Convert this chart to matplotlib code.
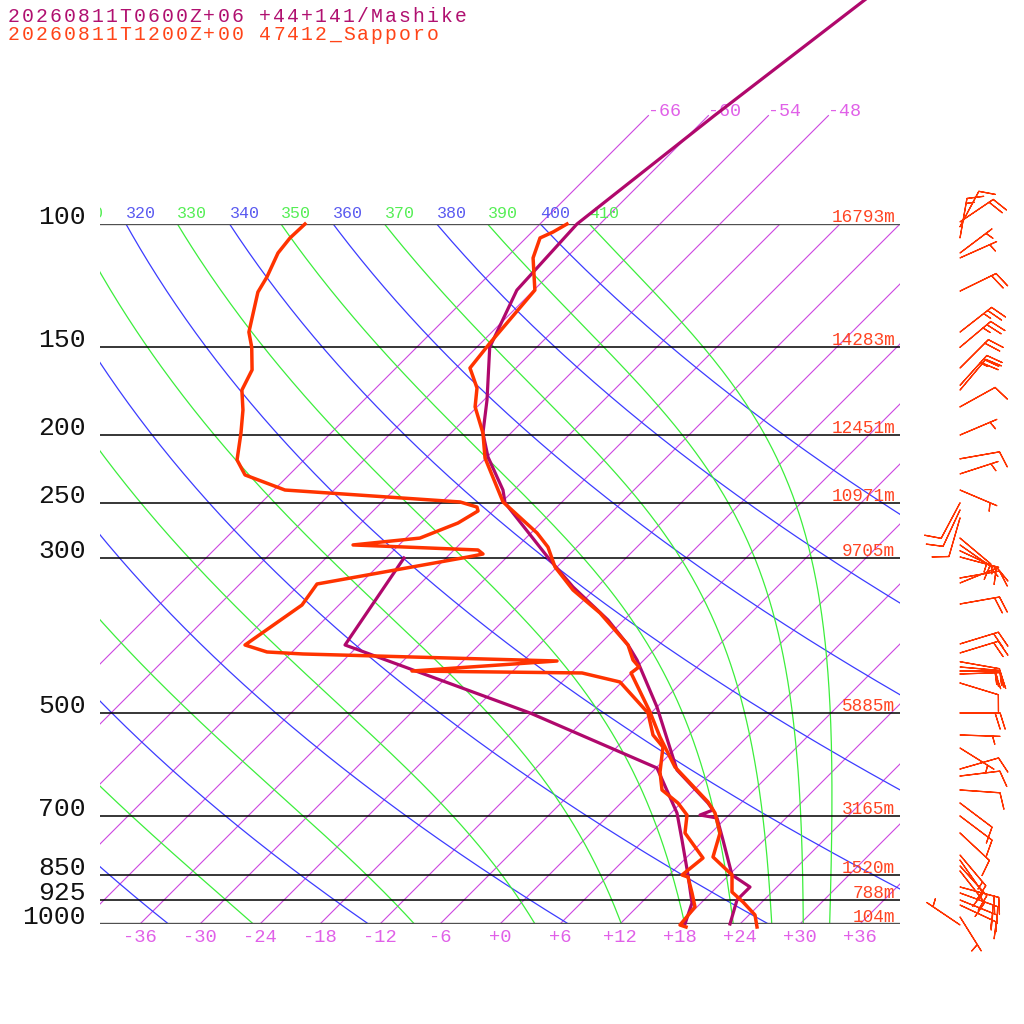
import numpy as np
import matplotlib
matplotlib.use('Agg')
import matplotlib.pyplot as plt
from matplotlib import transforms
from matplotlib.transforms import Bbox

# --- Mashike (model profile) ---
mashike_p = [40, 70, 100, 124.3, 150, 178.4, 198.9, 215.2, 239.9, 250.3, 302, 330,
             367.9, 399.4, 419.6, 489.8, 602.6, 671.7, 687.3, 698.7, 705.6, 758.6,
             851.1, 885.4, 924.1, 1000]
mashike_t = [-54.3, -59.4, -62.3, -61.7, -58.7, -53.7, -50.8, -47.9, -43.1, -41.6, -31.4, -26.4,
             -19.6, -15.1, -12.7, -6.0, 2.3, 8.7, 9.9, 9.1, 11.1, 13.9,
             18.3, 21.3, 21.3, 23.0]
mashike_td_p = [300, 399.4, 499.5, 598.6, 694.1, 758.6, 851.1, 933.3, 1000]
mashike_td = [-46.2, -43.4, -18.1, 0.1, 6.6, 9.8, 13.9, 17.1, 18.5]

# --- Sapporo 47412 (radiosonde) ---
sapporo_p = [100, 102.7, 104.7, 111.8, 124.3, 147.9, 160.6, 171.5, 182.5, 198.9, 215.9, 249.5,
             276.3, 289.4, 309.0, 333.3, 359.5, 399.4, 419.6, 429.4, 437.9, 497.9, 540.6,
             596.7, 669.4, 694.1, 741.3, 802.2, 851.1, 900.1, 930.2, 970.8, 1009.9]
sapporo_t = [-63.3, -63.9, -64.6, -63.3, -59.9, -59.1, -58.6, -55.9, -54.2, -50.8, -48.1, -41.9,
             -35.4, -32.9, -30.2, -26.1, -21.1, -15.1, -13.1, -11.8, -12.0, -6.2, -2.7,
             1.8, 8.6, 10.4, 12.9, 14.6, 18.3, 20.0, 22.1, 24.6, 26.0]
sapporo_td_p = [100, 104.7, 110.0, 119.1, 125.1, 142.7, 150, 161.6, 172.7, 184.4, 198.9, 217.3,
                228.3, 239.9, 249.5, 253.7, 257.0, 267.4, 281.0, 287.4, 292.2, 296.1, 299.0,
                326.8, 350.2, 399.4, 408.7, 411.4, 421.0, 435.1, 437.9, 451.1, 499.5, 537.0,
                558.7, 606.5, 643.5, 671.7, 698.7, 741.3, 804.9, 851.1, 856.8, 903.0, 945.6,
                1003.3, 1009.9]
sapporo_td = [-89.5, -89.6, -89.3, -88.0, -87.4, -84.3, -82.5, -80.2, -79.2, -77.1, -75.0, -72.7,
              -70.4, -64.9, -46.2, -44.0, -43.5, -44.3, -46.6, -52.6, -39.6, -38.7, -39.9,
              -52.3, -51.7, -53.4, -50.5, -46.7, -20.6, -34.1, -16.9, -12.2, -6.3, -3.6,
              -1.4, 0.8, 2.8, 5.7, 7.8, 9.4, 13.7, 13.3, 14.1, 16.1, 17.8,
              18.1, 18.9]

# --- winds (both soundings), direction deg / speed kt ---
barb_p = [104.7, 100.9, 99.3, 110.0, 111.8, 124.7, 142.7, 150.0, 160.6, 170.0, 172.7, 182.5,
          200.2, 216.5, 227.5, 239.9, 250.3, 256.2, 263.0, 281.0, 287.4, 293.0, 299.0, 320.4,
          325.7, 349.0, 398.0, 410.0, 422.0, 429.4, 435.1, 439.4, 452.6, 499.5, 537.0, 560.5,
          600.6, 614.6, 643.5, 671.7, 701.0, 741.3, 797.0, 810.5, 826.0, 840.0, 885.4, 903.0,
          924.1, 939.6, 1003.0, 977.0]
barb_dir = [10, 28, 56, 53, 66, 64, 52, 50, 45, 42, 40, 61,
            67, 80, 72, 113, 208, 205, 196, 130, 125, 115, 105, 80,
            68, 80, 73, 73, 100, 95, 90, 88, 107, 90, 92, 122,
            74, 83, 94, 127, 127, 133, 140, 145, 138, 142, 105, 110,
            112, 115, 304, 148]
barb_kt = [15, 10, 20, 5, 5, 20, 25, 25, 20, 25, 20, 10,
           5, 10, 5, 5, 10, 10, 10, 10, 5, 10, 5, 10,
           15, 20, 20, 20, 20, 20, 15, 20, 10, 20, 5, 5,
           10, 10, 10, 10, 10, 10, 15, 10, 15, 10, 20, 20,
           20, 15, 5, 5]

levels = [100, 150, 200, 250, 300, 500, 700, 850, 925, 1000]
heights = [16793, 14283, 12451, 10971, 9705, 5885, 3165, 1520, 788, 104]
iso_ticks = list(range(-36, 37, 6))
isotherms = list(range(-66, 37, 6))
top_isotherms = [-66, -60, -54, -48]
dry_thetas = list(range(240, 401, 20))
moist_thetas = list(range(250, 411, 20))

title1 = "20260811T0600Z+06 +44+141/Mashike"
title2 = "20260811T1200Z+00 47412_Sapporo"

PURPLE = '#b0086c'
RED = '#ff3300'
ISO = '#cc48e0'
BLUE = '#3c3cff'
GREEN = '#3cee3c'
MONO = 'Liberation Mono'

K = 30.4  # x shift (degC) per e-fold of pressure


def skew(t, p):
    return np.asarray(t, float) + K * np.log(1000.0 / np.asarray(p, float))


def dtdp(T, p):
    es = 6.112 * np.exp(17.67 * (T - 273.15) / (T - 29.65))
    rs = 0.622 * es / (p - es)
    return (287.04 * T + 2.501e6 * rs) / (1005.7 + 2.501e6 ** 2 * rs * 0.622 / (287.04 * T * T)) / p


def pseudo_adiabat(theta_e, p):
    T = theta_e * (p[0] / 1000.0) ** 0.2857
    out = [T]
    for p0, p1 in zip(p[:-1], p[1:]):
        dp = p1 - p0
        k1 = dtdp(T, p0)
        k2 = dtdp(T + dp / 2 * k1, p0 + dp / 2)
        k3 = dtdp(T + dp / 2 * k2, p0 + dp / 2)
        k4 = dtdp(T + dp * k3, p1)
        T = T + dp / 6 * (k1 + 2 * k2 + 2 * k3 + k4)
        out.append(T)
    return np.array(out) - 273.15


fig = plt.figure(figsize=(10.24, 10.24), dpi=100)
ax = fig.add_axes([100 / 1024, 100 / 1024, 800 / 1024, 700 / 1024])
ax.set_yscale('log')
ax.set_xlim(-40, 40)
ax.set_ylim(1000, 100)
ax.axis('off')

label_clip = Bbox.from_extents(100, 0, 1024, 1024)
up6 = transforms.offset_copy(ax.transData, fig=fig, x=0, y=6, units='dots')
up2 = transforms.offset_copy(ax.transData, fig=fig, x=0, y=2, units='dots')
down5 = transforms.offset_copy(ax.transData, fig=fig, x=0, y=-5, units='dots')


def theta_label(x, s, color):
    # only labels that reach into the box; the leftmost one is cut at its edge
    if x < -45.5:
        return
    txt = ax.text(x, 100, s, color=color, fontsize=12, family=MONO,
                  ha='left', va='baseline', transform=up6)
    txt.set_clip_on(True)
    txt.set_clip_box(label_clip)


# isotherms
for t in isotherms:
    ax.plot(skew([t, t], [1000, 100]), [1000, 100], color=ISO, lw=0.8, zorder=1)
for t in top_isotherms:
    ax.plot(skew([t, t], [100, 70]), [100, 70], color=ISO, lw=0.8, zorder=1, clip_on=False)
    ax.text(skew(t, 70), 70, str(t), color='#e060e8', fontsize=13.2, family=MONO,
            ha='left', va='baseline', clip_on=False)

# dry adiabats
pg = np.geomspace(1000, 100, 200)
for th in dry_thetas:
    t = th * (pg / 1000.0) ** 0.2857 - 273.15
    ax.plot(skew(t, pg), pg, color=BLUE, lw=0.9, zorder=1)
    theta_label(float(skew(th * 0.1 ** 0.2857 - 273.15, 100)), str(th), '#5a5af0')

# moist (pseudo) adiabats
pm = np.linspace(50, 1000, 476)
keep = pm >= 100
for the in moist_thetas:
    t = pseudo_adiabat(the, pm)
    ax.plot(skew(t[keep], pm[keep]), pm[keep], color=GREEN, lw=0.9, zorder=1)
    theta_label(float(skew(np.interp(100, pm, t), 100)), str(the), '#55ee55')

# isobars, pressure and height labels
for p, z in zip(levels, heights):
    edge = p in (100, 1000)
    ax.plot([-40, 40], [p, p], color='#505050' if edge else 'black',
            lw=1.7 if edge else 1.1, zorder=2)
    ax.text(-41.4, p, str(p), color='#111111', fontsize=19, family=MONO,
            ha='right', va='baseline', clip_on=False)
    ax.text(39.5, p, f"{z}m", color='#ff4422', fontsize=12.8, family=MONO,
            ha='right', va='baseline', transform=up2, clip_on=False)

# temperature tick labels
for t in iso_ticks:
    ax.text(t, 1000, f"{t:+d}", color='#e060e8', fontsize=13.5, family=MONO,
            ha='center', va='top', transform=down5, clip_on=False)

# soundings
ax.plot(skew(mashike_t, mashike_p), mashike_p, color=PURPLE, lw=2.3, zorder=3, clip_on=False)
ax.plot(skew(mashike_td, mashike_td_p), mashike_td_p, color=PURPLE, lw=2.3, zorder=3, clip_on=False)
ax.plot(skew(sapporo_t, sapporo_p), sapporo_p, color=RED, lw=2.5, zorder=4, clip_on=False)
ax.plot(skew(sapporo_td, sapporo_td_p), sapporo_td_p, color=RED, lw=2.5, zorder=4, clip_on=False)

# wind barbs
d = np.radians(barb_dir)
spd = np.asarray(barb_kt, float)
u = -spd * np.sin(d)
v = -spd * np.cos(d)
ax.barbs(np.full(len(barb_p), 46.0), barb_p, u, v, length=7.6, color=RED,
         linewidth=0.9, clip_on=False, zorder=4)

# titles, monospaced with a wide pitch
pitch = 13.95
for row, (s, col) in enumerate([(title1, '#b01070'), (title2, '#ff4418')]):
    base = 22.5 + row * 17
    for i, ch in enumerate(s):
        fig.text((8 + 6 + i * pitch) / 1024, 1 - base / 1024, ch, color=col,
                 fontsize=14.2, family=MONO, ha='center', va='baseline')

fig.savefig('out.png', dpi=100, facecolor='white')
